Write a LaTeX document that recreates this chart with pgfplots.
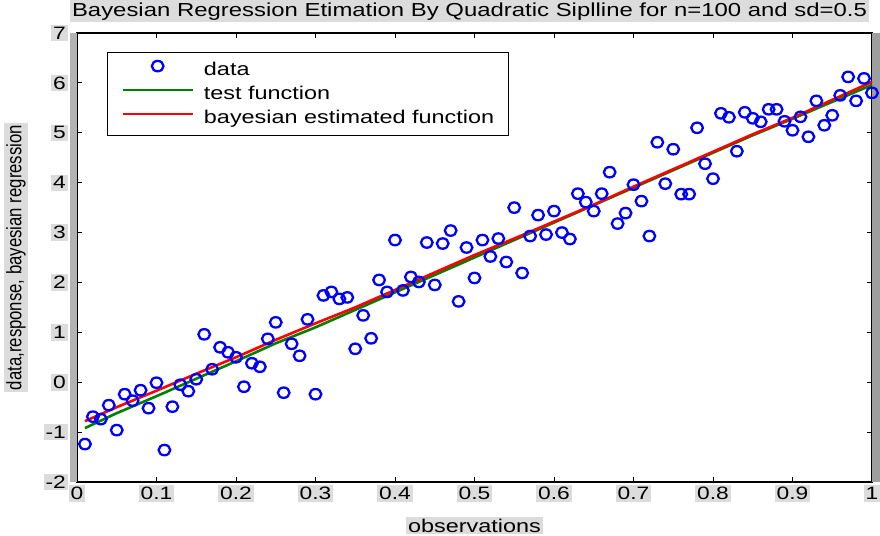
\documentclass[border=0pt]{standalone}
\usepackage{fontspec}
\setmainfont[FakeStretch=1.27]{Liberation Sans}
\newfontfamily\ylabfont[FakeStretch=0.8]{Liberation Sans}
\usepackage{pgfplots}
\usepackage{pgfplotstable}
\pgfplotsset{compat=1.18}
\pgfplotsset{
  mylegline/.style={legend image code/.code={\draw[##1] (0bp,4.5bp) -- (70bp,4.5bp);}},
  mylegmark/.style={legend image code/.code={\draw[##1, mark repeat=2, mark phase=2] plot coordinates {(0bp,4.5bp) (35bp,4.5bp) (70bp,4.5bp)};}},
}
\pgfplotstableread{
x y
0.01 -1.24
0.02 -0.69
0.03 -0.74
0.04 -0.46
0.05 -0.96
0.06 -0.24
0.07 -0.37
0.08 -0.16
0.09 -0.52
0.10 -0.01
0.11 -1.36
0.12 -0.49
0.13 -0.05
0.14 -0.18
0.15 0.06
0.16 0.96
0.17 0.26
0.18 0.70
0.19 0.60
0.20 0.50
0.21 -0.09
0.22 0.38
0.23 0.31
0.24 0.87
0.25 1.20
0.26 -0.21
0.27 0.77
0.28 0.53
0.29 1.26
0.30 -0.24
0.31 1.74
0.32 1.81
0.33 1.67
0.34 1.70
0.35 0.67
0.36 1.34
0.37 0.88
0.38 2.05
0.39 1.81
0.40 2.85
0.41 1.84
0.42 2.11
0.43 2.01
0.44 2.80
0.45 1.95
0.46 2.78
0.47 3.04
0.48 1.62
0.49 2.70
0.50 2.09
0.51 2.85
0.52 2.52
0.53 2.88
0.54 2.41
0.55 3.50
0.56 2.19
0.57 2.93
0.58 3.35
0.59 2.96
0.60 3.43
0.61 3.00
0.62 2.87
0.63 3.78
0.64 3.61
0.65 3.43
0.66 3.78
0.67 4.21
0.68 3.18
0.69 3.39
0.70 3.96
0.71 3.63
0.72 2.93
0.73 4.81
0.74 3.98
0.75 4.67
0.76 3.77
0.77 3.77
0.78 5.10
0.79 4.38
0.80 4.08
0.81 5.39
0.82 5.31
0.83 4.63
0.84 5.41
0.85 5.29
0.86 5.22
0.87 5.47
0.88 5.47
0.89 5.23
0.90 5.05
0.91 5.32
0.92 4.92
0.93 5.64
0.94 5.15
0.95 5.35
0.96 5.75
0.97 6.12
0.98 5.64
0.99 6.09
1.00 5.80
}\datatable
\pgfplotstableread{
x y
0.01 -0.92
0.05 -0.62
0.10 -0.28
0.15 0.07
0.20 0.42
0.25 0.78
0.30 1.10
0.35 1.45
0.40 1.80
0.45 2.15
0.50 2.50
0.55 2.85
0.60 3.20
0.65 3.55
0.70 3.90
0.75 4.25
0.80 4.60
0.85 4.95
0.90 5.28
0.95 5.62
1.00 5.96
}\testtable
\pgfplotstableread{
x y
0.01 -0.78
0.05 -0.50
0.10 -0.17
0.15 0.17
0.20 0.50
0.25 0.85
0.30 1.18
0.35 1.50
0.40 1.85
0.45 2.20
0.50 2.55
0.55 2.88
0.60 3.22
0.65 3.56
0.70 3.92
0.75 4.27
0.80 4.62
0.85 4.97
0.90 5.30
0.95 5.66
1.00 6.02
}\esttable
\definecolor{mblue}{RGB}{0,0,255}
\definecolor{mgreen}{RGB}{0,128,0}
\definecolor{mred}{RGB}{255,0,0}
\definecolor{halo}{RGB}{220,220,220}
\begin{document}
\begin{tikzpicture}
\begin{axis}[
  name=ax, at={(0,0)}, anchor=south west,
  width=795bp, height=449bp, scale only axis,
  xmin=0, xmax=1, ymin=-2, ymax=7,
  clip=false,
  xtick={0,0.1,0.2,0.3,0.4,0.5,0.6,0.7,0.8,0.9,1},
  xticklabels={0,0.1,0.2,0.3,0.4,0.5,0.6,0.7,0.8,0.9,1},
  ytick={-2,-1,0,1,2,3,4,5,6,7},
  yticklabels={-2,-1,0,1,2,3,4,5,6,7},
  tick align=inside, major tick length=5bp,
  tick style={black, line width=0.8bp},
  axis line style={black, line width=1.5bp},
  ticklabel style={font=\fontsize{18}{20}\selectfont, fill=halo},
  xticklabel style={anchor=north, inner sep=2bp, yshift=-3bp},
  yticklabel style={anchor=east, inner sep=2bp, xshift=-9bp},
  title={Bayesian Regression Etimation By Quadratic Siplline for n=100 and sd=0.5},
  title style={at={(axis description cs:0.5,1)}, anchor=base, yshift=11bp, xshift=-5bp, inner sep=2bp, fill=halo, font=\fontsize{18.9}{21}\selectfont},
  xlabel={observations},
  xlabel style={at={(axis description cs:0.5,0)}, anchor=base, yshift=-50bp, inner sep=2bp, fill=halo, font=\fontsize{18.5}{21}\selectfont},
  ylabel={data,response, bayesian regression},
  ylabel style={at={(axis description cs:-0.0767,0.5)}, anchor=center, inner sep=2bp, fill=halo, font=\ylabfont\fontsize{21}{24}\selectfont},
  legend style={at={(axis description cs:0.0377,0.9577)}, anchor=north west,
    draw=black, line width=0.8bp, fill=white,
    font=\fontsize{18.5}{20}\selectfont,
    inner xsep=14bp, inner ysep=8.5bp, column sep=10bp, row sep=7bp,
    nodes={inner sep=0pt, text height=13bp, text depth=4bp, fill=none},
    cells={anchor=west}},
]
\fill[black!38] (rel axis cs:1,0) rectangle ([xshift=9bp]rel axis cs:1,1);
\fill[black!30] ([xshift=-7bp]rel axis cs:0,0) rectangle (rel axis cs:0,1);
\addplot[only marks, mark=o, mblue, mark size=5.2bp, line width=2.3bp,
  mark options={xscale=1.12}, mylegmark]
  table[x=x, y=y] {\datatable};
\addlegendentry{data}
\addplot[mgreen, line width=2.6bp, no marks, mylegline]
  table[x=x, y=y] {\testtable};
\addlegendentry{test function}
\addplot[mred, line width=2.6bp, no marks, mylegline]
  table[x=x, y=y] {\esttable};
\addlegendentry{bayesian estimated function}
\end{axis}
\pgfresetboundingbox
\useasboundingbox (-77bp,-54bp) rectangle (803bp,482bp);
\end{tikzpicture}
\end{document}
